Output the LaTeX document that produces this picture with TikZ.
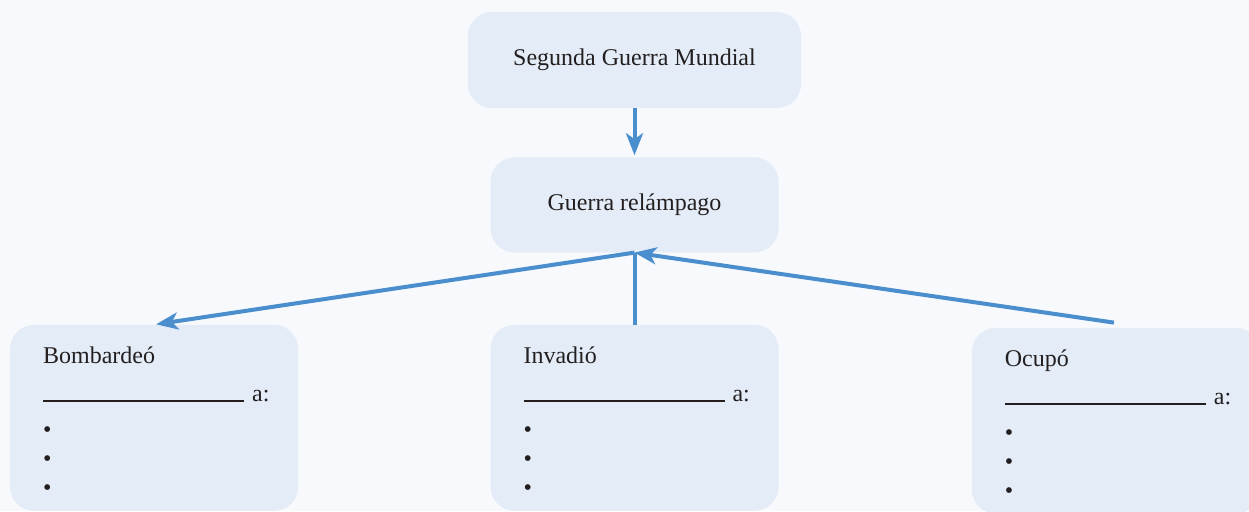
\documentclass[tikz,border=0pt]{standalone}
\usepackage{fontspec}
\setmainfont{Liberation Serif}
\usetikzlibrary{arrows.meta,positioning}
\definecolor{pagebg}{RGB}{247,249,252}
\definecolor{boxfill}{RGB}{228,237,247}
\definecolor{linkblue}{RGB}{74,142,206}
\definecolor{textdark}{RGB}{35,31,32}
\begin{document}
\begin{tikzpicture}[
x=1pt,y=-1pt,
font=\fontsize{24}{29}\selectfont,
text=textdark,
topbox/.style={
fill=boxfill,
rounded corners=24pt,
minimum height=96pt,
align=center
},
leafbox/.style={
fill=boxfill,
rounded corners=24pt,
minimum width=288pt,
minimum height=186pt
},
leaftext/.style={
anchor=north west,
align=left,
inner sep=0pt
},
link/.style={draw=linkblue,line width=4pt},
arrow/.style={link,-{Stealth[length=22pt,width=17pt,inset=6pt]}}
]

\fill[pagebg] (0,0) rectangle (1249,511);
\useasboundingbox (0,0) rectangle (1249,511);

\node[topbox,minimum width=333pt] (guerra) at (634.5,60) {Segunda Guerra Mundial};
\node[topbox,minimum width=288pt,minimum height=95pt,below=49pt of guerra] (relampago) {Guerra relámpago};

\node[leafbox,below=72pt of relampago] (invadio) {};
\node[leafbox,left=192pt of invadio] (bombardeo) {};
\node[leafbox,right=193pt of invadio,yshift=-3pt] (ocupo) {};

\node[leaftext] (bombardeotext) at ([xshift=33pt,yshift=-22.5pt]bombardeo.north west)
{Bombardeó\\[9pt] \rule{201pt}{2pt}\hspace{8pt}a:\\[7pt] •\\ •\\ •};
\node[leaftext] (invadiotext) at ([xshift=33pt,yshift=-22.5pt]invadio.north west)
{Invadió\\[9pt] \rule{201pt}{2pt}\hspace{8pt}a:\\[7pt] •\\ •\\ •};
\node[leaftext] (ocupotext) at ([xshift=33pt,yshift=-22.5pt]ocupo.north west)
{Ocupó\\[9pt] \rule{201pt}{2pt}\hspace{8pt}a:\\[7pt] •\\ •\\ •};

\draw[arrow,shorten >=2pt] (guerra) -- (relampago);
\draw[arrow,shorten >=2pt] (relampago.south) -- (bombardeo.north);
\draw[link] (invadio.north) -- (relampago.south);
\draw[arrow] ([xshift=-2pt,yshift=5pt]ocupo.north) -- (relampago.south);

\end{tikzpicture}
\end{document}
